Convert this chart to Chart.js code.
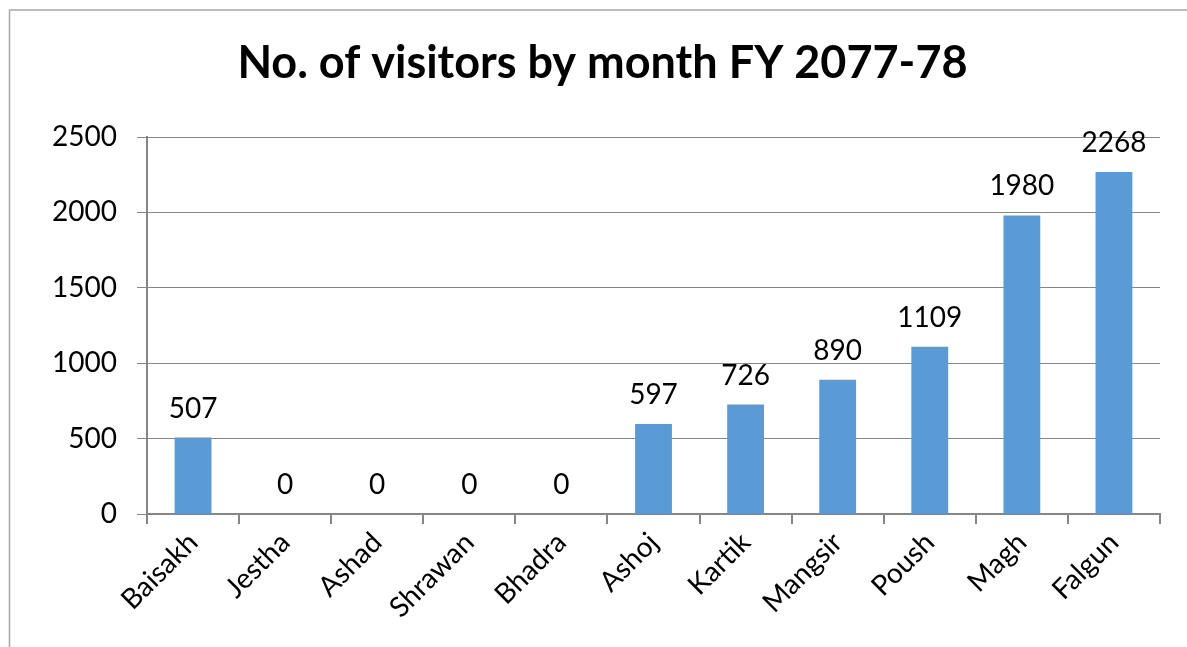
<!DOCTYPE html>
<html>
<head>
<meta charset="utf-8">
<script src="https://cdn.jsdelivr.net/npm/chart.js@4.4.1/dist/chart.umd.min.js"></script>
<style>
  html, body { margin: 0; padding: 0; background: #fff; }
  #wrap { width: 1187px; height: 647px; position: relative; }
</style>
</head>
<body>
<div id="wrap"><canvas id="c" width="1187" height="647"></canvas></div>
<script>
const months = ['Baisakh', 'Jestha', 'Ashad', 'Shrawan', 'Bhadra', 'Ashoj', 'Kartik', 'Mangsir', 'Poush', 'Magh', 'Falgun'];
const visitors = [507, 0, 0, 0, 0, 597, 726, 890, 1109, 1980, 2268];
const yTicks = [0, 500, 1000, 1500, 2000, 2500];
const titleText = 'No. of visitors by month FY 2077-78';

const FONT = 'Lato, "Open Sans", sans-serif';
const AXIS = '#868686';

// Value labels above each bar
const valueLabels = {
  id: 'valueLabels',
  afterDatasetsDraw(chart) {
    const ctx = chart.ctx;
    const meta = chart.getDatasetMeta(0);
    ctx.save();
    ctx.font = '28px ' + FONT;
    ctx.fillStyle = '#000';
    ctx.textAlign = 'center';
    ctx.textBaseline = 'bottom';
    meta.data.forEach((bar, i) => {
      ctx.fillText(String(visitors[i]), bar.x, bar.y - 15);
    });
    ctx.restore();
  }
};

// Outer frame (left and top edges)
const frame = {
  id: 'frame',
  afterDraw(chart) {
    const ctx = chart.ctx;
    ctx.save();
    ctx.strokeStyle = '#a9a9a9';
    ctx.lineWidth = 1.5;
    ctx.beginPath();
    ctx.moveTo(9.5, chart.height);
    ctx.lineTo(9.5, 10);
    ctx.lineTo(chart.width, 10);
    ctx.stroke();
    ctx.restore();
  }
};

new Chart(document.getElementById('c'), {
  type: 'bar',
  data: {
    labels: months,
    datasets: [{
      data: visitors,
      backgroundColor: '#5B9BD5',
      barPercentage: 0.4,
      categoryPercentage: 1.0
    }]
  },
  options: {
    responsive: false,
    animation: false,
    layout: { padding: { top: 10, right: 27, left: 45, bottom: 0 } },
    plugins: {
      legend: { display: false },
      tooltip: { enabled: false },
      title: {
        display: true,
        text: titleText,
        color: '#000',
        font: { family: FONT, size: 45, weight: 'bold' },
        padding: { top: 26, bottom: 47 }
      }
    },
    scales: {
      x: {
        offset: true,
        grid: {
          offset: true,
          drawOnChartArea: false,
          drawTicks: true,
          tickLength: 10,
          color: AXIS,
          lineWidth: 2
        },
        border: { color: AXIS, width: 2 },
        ticks: {
          color: '#000',
          font: { family: FONT, size: 28 },
          maxRotation: 45,
          minRotation: 45,
          autoSkip: false,
          padding: 2
        },
        afterFit(scale) { scale.height = 133; }
      },
      y: {
        min: 0,
        max: 2500,
        afterBuildTicks(scale) { scale.ticks = yTicks.map(v => ({ value: v })); },
        grid: {
          color: AXIS,
          lineWidth: 1,
          drawTicks: true,
          tickLength: 10
        },
        border: { color: AXIS, width: 2 },
        ticks: {
          color: '#000',
          font: { family: FONT, size: 28 },
          padding: 20,
          callback: (v) => String(v)
        },
        afterFit(scale) { scale.width = 102; }
      }
    }
  },
  plugins: [valueLabels, frame]
});
</script>
</body>
</html>
